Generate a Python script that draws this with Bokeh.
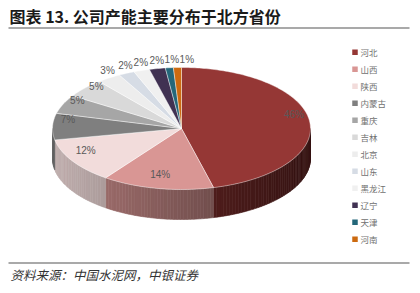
import numpy as np
from bokeh.plotting import figure
from bokeh.models import Range1d
from bokeh.core.properties import value
from bokeh.embed import file_html
from bokeh.resources import INLINE

# ---- data ----
provinces = ["河北", "山西", "陕西", "内蒙古", "重庆", "吉林", "北京", "山东", "黑龙江", "辽宁", "天津", "河南"]
shares = [46, 14, 12, 7, 5, 5, 3, 2, 2, 2, 1, 1]
colors = ["#953735", "#D99694", "#F2DCDB", "#7F7F7F", "#A6A6A6", "#D9D9D9",
          "#EDEDED", "#D6DCE5", "#F0F0F0", "#403152", "#24677A", "#CC6A10"]
title = "图表 13. 公司产能主要分布于北方省份"
source = "资料来源：中国水泥网，中银证券"

W, H = 420, 293
p = figure(width=W, height=H, output_backend="svg", toolbar_location=None,
           x_range=Range1d(0, W), y_range=Range1d(H, 0),
           x_axis_type=None, y_axis_type=None, min_border=0)
p.grid.visible = False
p.outline_line_color = None
p.background_fill_color = "white"
p.border_fill_color = "white"

# pie geometry (layout)
cx, cy, rx, ry, depth = 181, 128, 129, 61, 30

def ex(t):
    return cx + rx * np.sin(t)

def ey(t):
    return cy - ry * np.cos(t)

def hex2rgb(h):
    h = h.lstrip("#")
    return [int(h[i:i + 2], 16) for i in (0, 2, 4)]

def shade(h, f):
    r, g, b = hex2rgb(h)
    return "#%02x%02x%02x" % tuple(int(max(0, min(255, c * f))) for c in (r, g, b))

total = float(sum(shares))
cum = np.concatenate([[0], np.cumsum(shares)]) / total * 2 * np.pi

# sides (front half only)
sx, sy, sc = [], [], []
for i, col in enumerate(colors):
    a0, a1 = max(cum[i], np.pi / 2), min(cum[i + 1], 3 * np.pi / 2)
    if a1 <= a0:
        continue
    n = max(1, int(np.ceil((a1 - a0) / np.radians(1.5))))
    ts = np.linspace(a0, a1, n + 1)
    for k in range(n):
        t0, t1 = ts[k], ts[k + 1]
        tm = 0.5 * (t0 + t1)
        f = 0.80 - 0.44 * (np.sin(tm) + 1) / 2
        sx.append([ex(t0), ex(t1), ex(t1), ex(t0)])
        sy.append([ey(t0), ey(t1), ey(t1) + depth, ey(t0) + depth])
        sc.append(shade(col, f))
p.patches(sx, sy, fill_color=sc, line_color=sc, line_width=0.6)

# top faces
tx, ty = [], []
for i in range(len(shares)):
    n = max(2, int(np.ceil((cum[i + 1] - cum[i]) / np.radians(1))))
    ts = np.linspace(cum[i], cum[i + 1], n + 1)
    tx.append([cx] + list(ex(ts)))
    ty.append([cy] + list(ey(ts)))
p.patches(tx, ty, fill_color=colors, line_color="white", line_width=0.6, line_alpha=0.7)

# percentage labels
lx, ly, lt = [], [], []
prev_small_x = None
for i, s in enumerate(shares):
    tm = 0.5 * (cum[i] + cum[i + 1])
    f = 0.88 if s >= 5 else 1.02
    x = cx + rx * f * np.sin(tm)
    if s < 5:
        if prev_small_x is not None and x - prev_small_x < 15:
            x = prev_small_x + 15
        prev_small_x = x
    lx.append(x)
    ly.append(cy - 7 - ry * f * np.cos(tm))
    lt.append("%d%%" % s)
p.text(lx, ly, text=lt, text_font=value("Liberation Sans"), text_font_size="10px",
       text_color="#595959", text_align="center", text_baseline="middle")

# legend
legy = [51.7 + 17 * i for i in range(len(provinces))]
p.rect([354.5] * len(provinces), legy, width=5.5, height=5.5, fill_color=colors,
       line_color=None)
p.text([360] * len(provinces), legy, text=provinces, text_font=value("Noto Sans CJK SC"),
       text_font_size="8.5px", text_color="#707070", text_baseline="middle")

# title and source
p.text([9], [15], text=[title], text_font=value("Noto Sans CJK SC"), text_font_size="16px",
       text_font_style="bold", text_color="#1a1a1a", text_baseline="middle")
p.segment([8], [27.5], [409], [27.5], line_color="#8c8c8c", line_width=1.6)
p.segment([8], [262.5], [409], [262.5], line_color="#8c8c8c", line_width=1.6)
p.text([10], [274], text=[source], text_font=value("Noto Sans CJK SC"), text_font_size="12.5px",
       text_font_style="italic", text_color="#333333", text_baseline="middle")

open("out.html", "w").write(file_html(p, INLINE))
